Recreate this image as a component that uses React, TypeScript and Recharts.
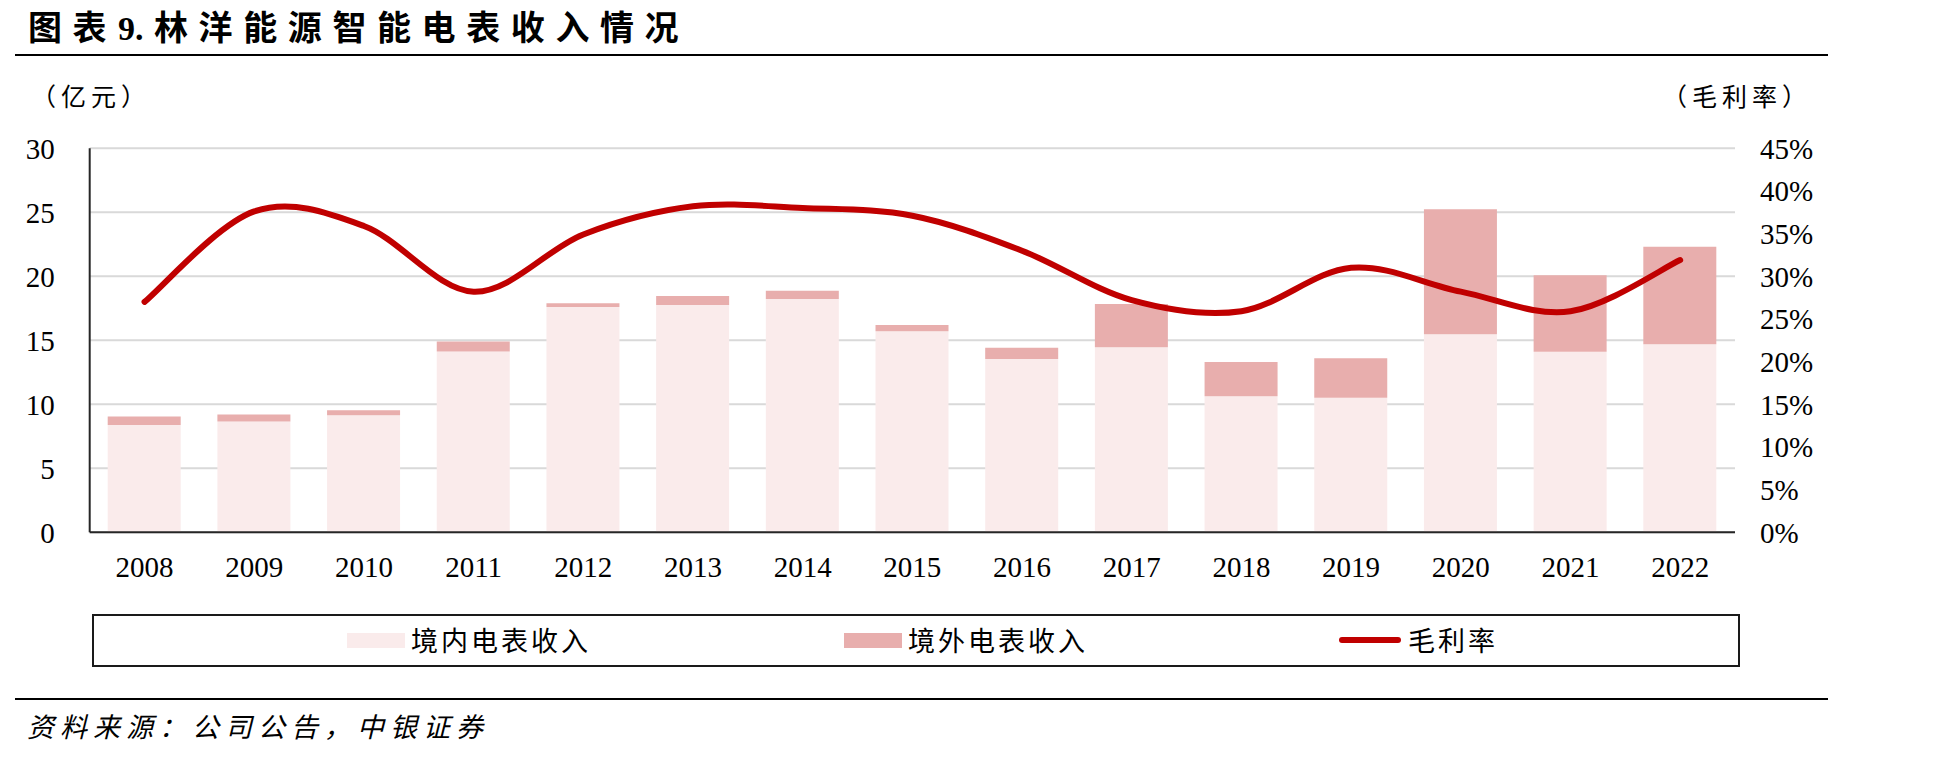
import React from 'react';
import { ComposedChart, Bar, Line, XAxis, YAxis, CartesianGrid, Legend } from 'recharts';

const years = ['2008', '2009', '2010', '2011', '2012', '2013', '2014', '2015', '2016', '2017', '2018', '2019', '2020', '2021', '2022'];
const domestic = [8.38, 8.65, 9.15, 14.13, 17.6, 17.76, 18.23, 15.7, 13.54, 14.45, 10.62, 10.52, 15.47, 14.1, 14.7];
const overseas = [0.67, 0.55, 0.39, 0.78, 0.29, 0.7, 0.65, 0.5, 0.88, 3.39, 2.68, 3.07, 9.76, 5.98, 7.6];
const grossMargin = [27.0, 37.6, 35.9, 28.2, 34.9, 38.2, 38.0, 37.1, 33.0, 27.2, 25.9, 31.0, 28.2, 25.9, 31.9];
const leftTicks = [0, 5, 10, 15, 20, 25, 30];
const rightTicks = [0, 5, 10, 15, 20, 25, 30, 35, 40, 45];

const seriesNames = { domestic: '境内电表收入', overseas: '境外电表收入', margin: '毛利率' };

const data = years.map((y, i) => ({ year: y, domestic: domestic[i], overseas: overseas[i], margin: grossMargin[i] }));

const SERIF = '"Liberation Serif", "Times New Roman", serif';
const CJK = '"Noto Sans CJK SC", "Noto Sans CJK JP", sans-serif';

// Excel-like smoothed line (Catmull-Rom through points)
function smoothCurve(context: any) {
  let pts: number[][] = [];
  return {
    areaStart() {},
    areaEnd() {},
    lineStart() {
      pts = [];
    },
    point(x: number, y: number) {
      pts.push([+x, +y]);
    },
    lineEnd() {
      const n = pts.length;
      if (!n) return;
      context.moveTo(pts[0][0], pts[0][1]);
      for (let i = 0; i < n - 1; i++) {
        const p0 = pts[Math.max(i - 1, 0)];
        const p1 = pts[i];
        const p2 = pts[i + 1];
        const p3 = pts[Math.min(i + 2, n - 1)];
        context.bezierCurveTo(
          p1[0] + (p2[0] - p0[0]) / 6,
          p1[1] + (p2[1] - p0[1]) / 6,
          p2[0] - (p3[0] - p1[0]) / 6,
          p2[1] - (p3[1] - p1[1]) / 6,
          p2[0],
          p2[1]
        );
      }
    },
  };
}

const legendPos: Record<string, number> = { domestic: 255, overseas: 752, margin: 1247 };

function LegendContent(props: any) {
  const payload = props.payload || [];
  return (
    <svg width={1650} height={54} style={{ display: 'block' }}>
      <rect x={1} y={1} width={1646} height={51} fill="#fff" stroke="#1a1a1a" strokeWidth={2} />
      {payload.map((p: any) => {
        const key = p.dataKey as string;
        const x0 = legendPos[key] ?? 0;
        const isLine = key === 'margin';
        return (
          <g key={key}>
            {isLine ? (
              <line x1={x0 + 3} x2={x0 + 59} y1={26} y2={26} stroke={p.color} strokeWidth={6} strokeLinecap="round" />
            ) : (
              <rect x={x0} y={19} width={58} height={15} fill={p.color} />
            )}
            <text
              x={isLine ? x0 + 69 : x0 + 64}
              y={37}
              fontFamily={CJK}
              fontSize={27}
              letterSpacing={3}
              fill="#000"
            >
              {p.value}
            </text>
          </g>
        );
      })}
    </svg>
  );
}

export default function App() {
  return (
    <div style={{ position: 'absolute', left: 0, top: 0, width: 1948, height: 757, background: '#fff' }}>
      <ComposedChart
        width={1948}
        height={757}
        data={data}
        margin={{ top: 148.3, right: 153, bottom: 164.7, left: 0 }}
      >
        <CartesianGrid yAxisId="left" vertical={false} stroke="#D9D9D9" strokeWidth={2} />
        <XAxis
          dataKey="year"
          height={60}
          tickLine={false}
          tickSize={0}
          tickMargin={24}
          axisLine={{ stroke: '#262626', strokeWidth: 2 }}
          tick={{ fill: '#000', fontSize: 29, fontFamily: SERIF }}
          interval={0}
        />
        <YAxis
          yAxisId="left"
          orientation="left"
          width={89.7}
          domain={[0, 30]}
          ticks={leftTicks}
          tickLine={false}
          tickSize={0}
          tickMargin={35}
          axisLine={{ stroke: '#262626', strokeWidth: 2 }}
          tick={{ fill: '#000', fontSize: 29, fontFamily: SERIF }}
          interval={0}
        />
        <YAxis
          yAxisId="right"
          orientation="right"
          width={60}
          domain={[0, 45]}
          ticks={rightTicks}
          tickLine={false}
          tickSize={0}
          tickMargin={25}
          axisLine={false}
          tick={{ fill: '#000', fontSize: 29, fontFamily: SERIF }}
          tickFormatter={(v: number) => `${v}%`}
          interval={0}
        />
        <Bar
          yAxisId="left"
          dataKey="domestic"
          name={seriesNames.domestic}
          stackId="rev"
          fill="#FAEBEB"
          barSize={73}
          isAnimationActive={false}
        />
        <Bar
          yAxisId="left"
          dataKey="overseas"
          name={seriesNames.overseas}
          stackId="rev"
          fill="#E8AEAD"
          barSize={73}
          isAnimationActive={false}
        />
        <Line
          yAxisId="right"
          dataKey="margin"
          name={seriesNames.margin}
          type={smoothCurve as any}
          stroke="#C00000"
          strokeWidth={6}
          strokeLinecap="round"
          dot={false}
          activeDot={false}
          isAnimationActive={false}
        />
        <Legend
          layout="horizontal"
          verticalAlign="middle"
          align="center"
          width={1650}
          height={54}
          wrapperStyle={{ position: 'absolute', left: 92.3, top: 614, width: 1650, height: 54 }}
          content={LegendContent}
        />
      </ComposedChart>
      <svg
        width={1948}
        height={757}
        style={{ position: 'absolute', left: 0, top: 0, pointerEvents: 'none' }}
      >
        <text x={28} y={40} fontFamily={CJK} fontWeight={700} fontSize={34} letterSpacing={10.6} fill="#000">图表</text>
        <text x={118} y={40} fontFamily={SERIF} fontWeight={700} fontSize={34} fill="#000">9.</text>
        <text x={154} y={40} fontFamily={CJK} fontWeight={700} fontSize={34} letterSpacing={10.6} fill="#000">
          林洋能源智能电表收入情况
        </text>
        <line x1={15} x2={1828} y1={55} y2={55} stroke="#000" strokeWidth={2} />
        <text x={31} y={106} fontFamily={CJK} fontSize={25} letterSpacing={5} fill="#000">（亿元）</text>
        <text x={1662} y={106} fontFamily={CJK} fontSize={25} letterSpacing={5} fill="#000">（毛利率）</text>
        <line x1={15} x2={1828} y1={699} y2={699} stroke="#000" strokeWidth={2} />
        <text x={27} y={737} fontFamily={CJK} fontSize={27} fontStyle="italic" letterSpacing={6} fill="#000">
          资料来源：公司公告，中银证券
        </text>
      </svg>
    </div>
  );
}
